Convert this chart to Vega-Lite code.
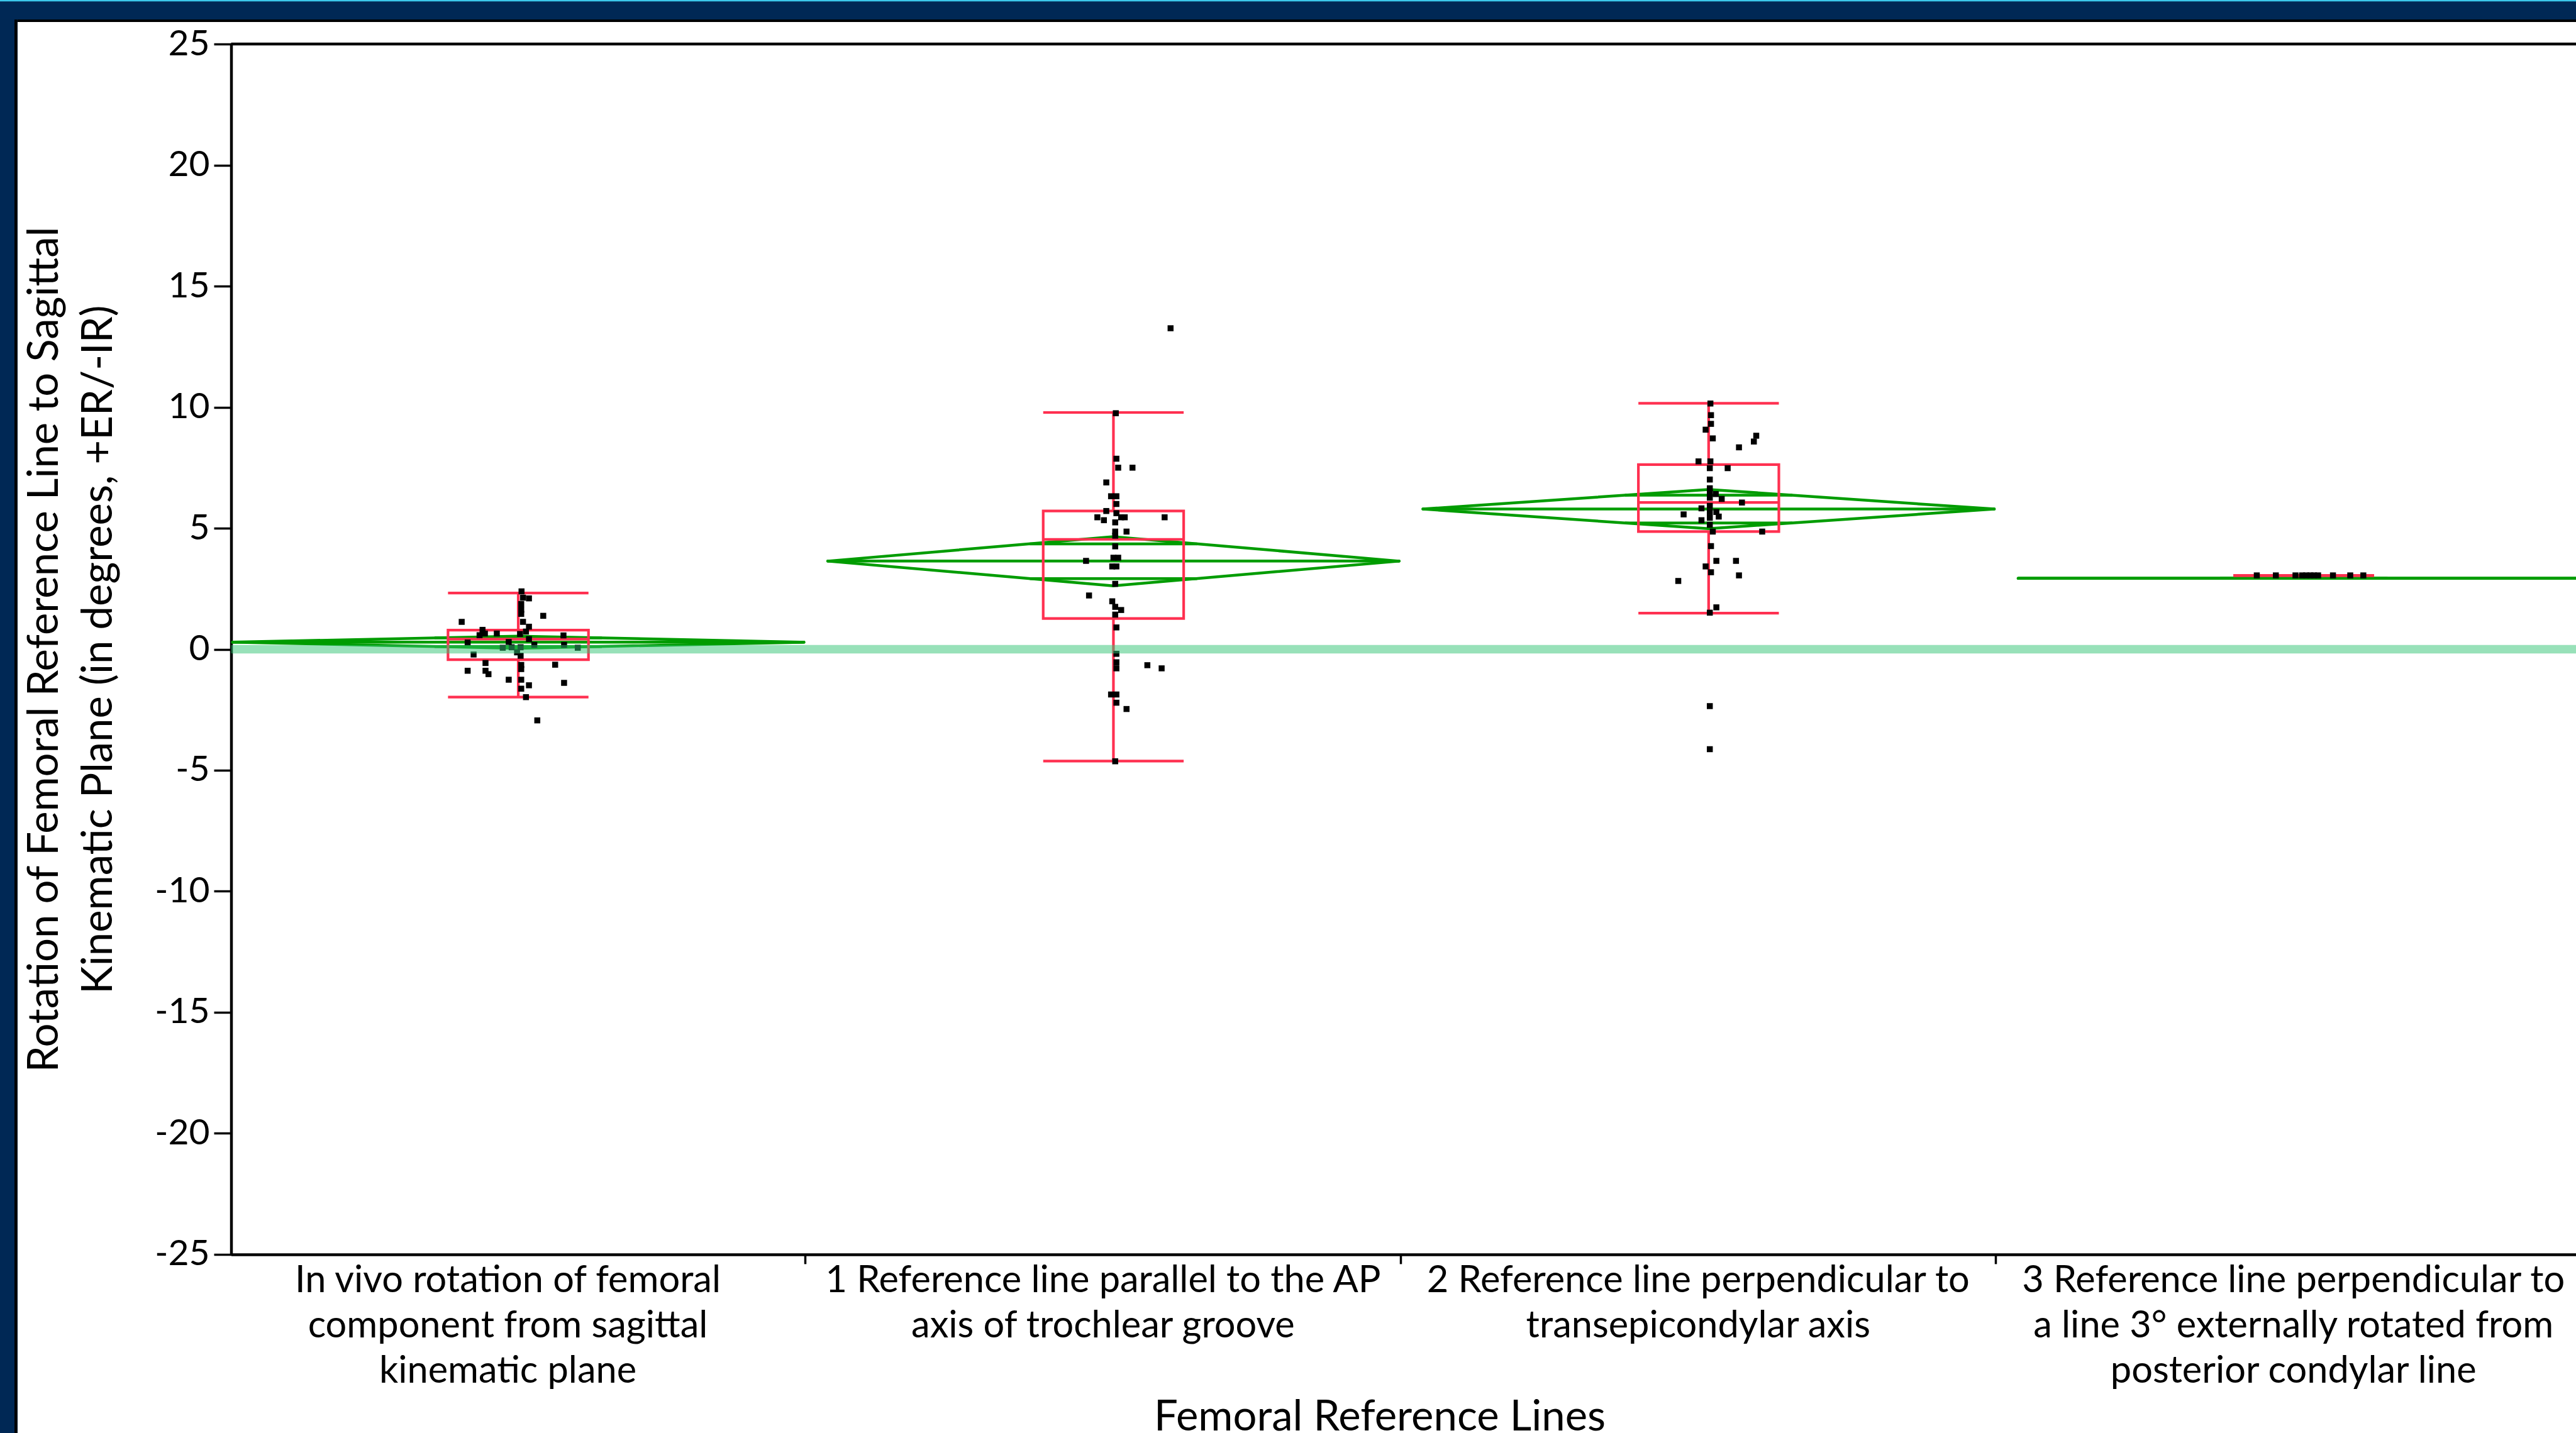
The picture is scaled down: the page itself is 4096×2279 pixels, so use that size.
{
  "$schema": "https://vega.github.io/schema/vega-lite/v6.json",
  "background": "#002855",
  "padding": 0,
  "spacing": 0,
  "config": {
    "view": {"stroke": null},
    "concat": {"spacing": 0},
    "font": "Lato"
  },
  "datasets": {
    "groups": [
      {"g": 1, "group": "In vivo rotation of femoral component from sagittal kinematic plane", "mean": 0.29, "ciLow": 0.04, "ciHigh": 0.54, "whiskerLow": -1.98, "q1": -0.43, "median": 0.42, "q3": 0.79, "whiskerHigh": 2.32},
      {"g": 2, "group": "1 Reference line parallel to the AP axis of trochlear groove", "mean": 3.64, "ciLow": 2.62, "ciHigh": 4.65, "whiskerLow": -4.62, "q1": 1.27, "median": 4.54, "q3": 5.71, "whiskerHigh": 9.78},
      {"g": 3, "group": "2 Reference line perpendicular to transepicondylar axis", "mean": 5.79, "ciLow": 4.98, "ciHigh": 6.6, "whiskerLow": 1.49, "q1": 4.86, "median": 6.06, "q3": 7.63, "whiskerHigh": 10.16},
      {"g": 4, "group": "3 Reference line perpendicular to a line 3° externally rotated from posterior condylar line", "mean": 2.93, "ciLow": 2.93, "ciHigh": 2.93, "whiskerLow": 3.05, "q1": 3.05, "median": 3.05, "q3": 3.05, "whiskerHigh": 3.05}
    ],
    "points": [
      {"g": 1, "rotation": 2.39, "jitter": 0.0055}, {"g": 1, "rotation": 2.13, "jitter": 0.008}, {"g": 1, "rotation": 2.1, "jitter": 0.018},
      {"g": 1, "rotation": 1.87, "jitter": 0.005}, {"g": 1, "rotation": 1.63, "jitter": 0.005}, {"g": 1, "rotation": 1.46, "jitter": 0.005},
      {"g": 1, "rotation": 1.38, "jitter": 0.042}, {"g": 1, "rotation": 1.13, "jitter": -0.095}, {"g": 1, "rotation": 1.13, "jitter": 0.008},
      {"g": 1, "rotation": 0.93, "jitter": 0.018}, {"g": 1, "rotation": 0.73, "jitter": 0.013}, {"g": 1, "rotation": 0.8, "jitter": -0.06},
      {"g": 1, "rotation": 0.58, "jitter": -0.065}, {"g": 1, "rotation": 0.65, "jitter": -0.056}, {"g": 1, "rotation": 0.65, "jitter": -0.036},
      {"g": 1, "rotation": 0.63, "jitter": 0.003}, {"g": 1, "rotation": 0.57, "jitter": 0.076}, {"g": 1, "rotation": 0.42, "jitter": 0.018},
      {"g": 1, "rotation": 0.3, "jitter": -0.016}, {"g": 1, "rotation": 0.28, "jitter": -0.085}, {"g": 1, "rotation": 0.06, "jitter": -0.026},
      {"g": 1, "rotation": 0.08, "jitter": -0.011}, {"g": 1, "rotation": 0.08, "jitter": 0.004}, {"g": 1, "rotation": 0.18, "jitter": 0.027},
      {"g": 1, "rotation": 0.18, "jitter": 0.077}, {"g": 1, "rotation": 0.06, "jitter": 0.1}, {"g": 1, "rotation": -0.13, "jitter": -0.002},
      {"g": 1, "rotation": -0.22, "jitter": -0.075}, {"g": 1, "rotation": -0.27, "jitter": 0.004}, {"g": 1, "rotation": -0.57, "jitter": -0.055},
      {"g": 1, "rotation": -0.64, "jitter": 0.062}, {"g": 1, "rotation": -0.65, "jitter": 0.005}, {"g": 1, "rotation": -0.82, "jitter": 0.005},
      {"g": 1, "rotation": -0.89, "jitter": -0.085}, {"g": 1, "rotation": -0.89, "jitter": -0.055}, {"g": 1, "rotation": -1.03, "jitter": -0.05},
      {"g": 1, "rotation": -1.26, "jitter": -0.016}, {"g": 1, "rotation": -1.26, "jitter": 0.005}, {"g": 1, "rotation": -1.39, "jitter": 0.077},
      {"g": 1, "rotation": -1.49, "jitter": 0.018}, {"g": 1, "rotation": -1.63, "jitter": 0.005}, {"g": 1, "rotation": -1.98, "jitter": 0.013},
      {"g": 1, "rotation": -2.94, "jitter": 0.032},

      {"g": 2, "rotation": 13.26, "jitter": 0.096}, {"g": 2, "rotation": 9.75, "jitter": 0.004}, {"g": 2, "rotation": 7.87, "jitter": 0.005},
      {"g": 2, "rotation": 7.5, "jitter": 0.008}, {"g": 2, "rotation": 7.5, "jitter": 0.032}, {"g": 2, "rotation": 6.89, "jitter": -0.012},
      {"g": 2, "rotation": 6.32, "jitter": -0.004}, {"g": 2, "rotation": 6.32, "jitter": 0.005}, {"g": 2, "rotation": 6.0, "jitter": 0.005},
      {"g": 2, "rotation": 5.71, "jitter": -0.012}, {"g": 2, "rotation": 5.62, "jitter": 0.005}, {"g": 2, "rotation": 5.45, "jitter": -0.027},
      {"g": 2, "rotation": 5.33, "jitter": -0.016}, {"g": 2, "rotation": 5.45, "jitter": 0.013}, {"g": 2, "rotation": 5.45, "jitter": 0.019},
      {"g": 2, "rotation": 5.45, "jitter": 0.086}, {"g": 2, "rotation": 5.24, "jitter": 0.003}, {"g": 2, "rotation": 4.86, "jitter": 0.003},
      {"g": 2, "rotation": 4.86, "jitter": 0.022}, {"g": 2, "rotation": 4.69, "jitter": 0.003}, {"g": 2, "rotation": 4.25, "jitter": 0.003},
      {"g": 2, "rotation": 3.78, "jitter": 0.008}, {"g": 2, "rotation": 3.78, "jitter": 0.0}, {"g": 2, "rotation": 3.65, "jitter": -0.046},
      {"g": 2, "rotation": 3.42, "jitter": -0.002}, {"g": 2, "rotation": 3.42, "jitter": 0.005}, {"g": 2, "rotation": 2.7, "jitter": 0.003},
      {"g": 2, "rotation": 2.22, "jitter": -0.041}, {"g": 2, "rotation": 1.98, "jitter": -0.002}, {"g": 2, "rotation": 1.75, "jitter": 0.003},
      {"g": 2, "rotation": 1.62, "jitter": 0.013}, {"g": 2, "rotation": 1.43, "jitter": 0.003}, {"g": 2, "rotation": 0.9, "jitter": 0.005},
      {"g": 2, "rotation": -0.19, "jitter": 0.005}, {"g": 2, "rotation": -0.54, "jitter": 0.005}, {"g": 2, "rotation": -0.79, "jitter": 0.005},
      {"g": 2, "rotation": -0.66, "jitter": 0.057}, {"g": 2, "rotation": -0.79, "jitter": 0.081}, {"g": 2, "rotation": -1.87, "jitter": -0.004},
      {"g": 2, "rotation": -1.87, "jitter": 0.005}, {"g": 2, "rotation": -2.21, "jitter": 0.005}, {"g": 2, "rotation": -2.47, "jitter": 0.022},
      {"g": 2, "rotation": -4.63, "jitter": 0.003},

      {"g": 3, "rotation": 10.15, "jitter": 0.003}, {"g": 3, "rotation": 9.67, "jitter": 0.004}, {"g": 3, "rotation": 9.31, "jitter": 0.004},
      {"g": 3, "rotation": 9.07, "jitter": -0.005}, {"g": 3, "rotation": 8.71, "jitter": 0.007}, {"g": 3, "rotation": 8.82, "jitter": 0.08},
      {"g": 3, "rotation": 8.58, "jitter": 0.076}, {"g": 3, "rotation": 8.34, "jitter": 0.051}, {"g": 3, "rotation": 7.76, "jitter": -0.017},
      {"g": 3, "rotation": 7.76, "jitter": 0.003}, {"g": 3, "rotation": 7.48, "jitter": 0.002}, {"g": 3, "rotation": 7.48, "jitter": 0.032},
      {"g": 3, "rotation": 7.01, "jitter": 0.002}, {"g": 3, "rotation": 6.65, "jitter": 0.002}, {"g": 3, "rotation": 6.46, "jitter": 0.002},
      {"g": 3, "rotation": 6.41, "jitter": 0.012}, {"g": 3, "rotation": 6.26, "jitter": 0.002}, {"g": 3, "rotation": 6.21, "jitter": 0.022},
      {"g": 3, "rotation": 6.06, "jitter": 0.056}, {"g": 3, "rotation": 5.92, "jitter": 0.002}, {"g": 3, "rotation": 5.82, "jitter": -0.012},
      {"g": 3, "rotation": 5.67, "jitter": 0.002}, {"g": 3, "rotation": 5.67, "jitter": 0.013}, {"g": 3, "rotation": 5.57, "jitter": -0.042},
      {"g": 3, "rotation": 5.48, "jitter": 0.017}, {"g": 3, "rotation": 5.43, "jitter": 0.002}, {"g": 3, "rotation": 5.33, "jitter": -0.012},
      {"g": 3, "rotation": 5.14, "jitter": 0.002}, {"g": 3, "rotation": 4.86, "jitter": 0.007}, {"g": 3, "rotation": 4.86, "jitter": 0.09},
      {"g": 3, "rotation": 4.26, "jitter": 0.004}, {"g": 3, "rotation": 3.65, "jitter": 0.013}, {"g": 3, "rotation": 3.65, "jitter": 0.046},
      {"g": 3, "rotation": 3.42, "jitter": -0.005}, {"g": 3, "rotation": 3.18, "jitter": 0.004}, {"g": 3, "rotation": 3.05, "jitter": 0.051},
      {"g": 3, "rotation": 2.82, "jitter": -0.051}, {"g": 3, "rotation": 1.73, "jitter": 0.013}, {"g": 3, "rotation": 1.51, "jitter": 0.002},
      {"g": 3, "rotation": -2.35, "jitter": 0.002}, {"g": 3, "rotation": -4.13, "jitter": 0.002},

      {"g": 4, "rotation": 3.05, "jitter": -0.079}, {"g": 4, "rotation": 3.05, "jitter": -0.047}, {"g": 4, "rotation": 3.05, "jitter": -0.014},
      {"g": 4, "rotation": 3.05, "jitter": -0.003}, {"g": 4, "rotation": 3.05, "jitter": 0.004}, {"g": 4, "rotation": 3.05, "jitter": 0.011},
      {"g": 4, "rotation": 3.05, "jitter": 0.017}, {"g": 4, "rotation": 3.05, "jitter": 0.024}, {"g": 4, "rotation": 3.05, "jitter": 0.049},
      {"g": 4, "rotation": 3.05, "jitter": 0.078}, {"g": 4, "rotation": 3.05, "jitter": 0.1}
    ]
  },
  "vconcat": [
    {"width": 4096, "height": 2.2, "view": {"fill": "#3CC8EB", "stroke": null}, "data": {"values": []}, "mark": "point"},
    {"width": 4096, "height": 27.3, "view": {"fill": "#002855", "stroke": null}, "data": {"values": []}, "mark": "point"},
    {
      "spacing": 0,
      "hconcat": [
        {"width": 22.9, "height": 2249.5, "view": {"fill": "#002855", "stroke": null}, "data": {"values": []}, "mark": "point"},
        {"width": 4.6, "height": 2249.5, "view": {"fill": "black", "stroke": null}, "data": {"values": []}, "mark": "point"},
        {
          "spacing": 0,
          "vconcat": [
            {"width": 4068.5, "height": 4, "view": {"fill": "black", "stroke": null}, "data": {"values": []}, "mark": "point"},
            {
              "width": 4068.5,
              "height": 2245.5,
              "view": {"fill": "white", "stroke": null},
              "resolve": {"axis": {"x": "independent", "y": "independent"}},
              "layer": [
                {
                  "data": {"name": "groups"},
                  "transform": [
                    {"calculate": "datum.g - 0.48", "as": "tipL"},
                    {"calculate": "datum.g + 0.48", "as": "tipR"},
                    {"calculate": "datum.g - 0.48 * (1 - SQRT1_2)", "as": "ovL"},
                    {"calculate": "datum.g + 0.48 * (1 - SQRT1_2)", "as": "ovR"},
                    {"calculate": "datum.mean + (datum.ciHigh - datum.mean) * SQRT1_2", "as": "ovHigh"},
                    {"calculate": "datum.mean - (datum.mean - datum.ciLow) * SQRT1_2", "as": "ovLow"}
                  ],
                  "layer": [
                    {"mark": {"type": "rule", "color": "#009C00", "strokeWidth": 4.5, "strokeCap": "round"},
                     "encoding": {"x": {"field": "tipL", "type": "quantitative", "scale": {"domain": [0.5176, 4.5], "range": [339.5, 4108.4], "nice": false, "zero": false}, "axis": null},
                                  "x2": {"field": "g"},
                                  "y": {"field": "mean", "type": "quantitative", "scale": {"domain": [-25, 25], "range": [1959.9, 35.1], "nice": false, "zero": false}, "axis": null},
                                  "y2": {"field": "ciHigh"}}},
                    {"mark": {"type": "rule", "color": "#009C00", "strokeWidth": 4.5, "strokeCap": "round"},
                     "encoding": {"x": {"field": "g", "type": "quantitative", "axis": null}, "x2": {"field": "tipR"},
                                  "y": {"field": "ciHigh", "type": "quantitative", "axis": null}, "y2": {"field": "mean"}}},
                    {"mark": {"type": "rule", "color": "#009C00", "strokeWidth": 4.5, "strokeCap": "round"},
                     "encoding": {"x": {"field": "tipL", "type": "quantitative", "axis": null}, "x2": {"field": "g"},
                                  "y": {"field": "mean", "type": "quantitative", "axis": null}, "y2": {"field": "ciLow"}}},
                    {"mark": {"type": "rule", "color": "#009C00", "strokeWidth": 4.5, "strokeCap": "round"},
                     "encoding": {"x": {"field": "g", "type": "quantitative", "axis": null}, "x2": {"field": "tipR"},
                                  "y": {"field": "ciLow", "type": "quantitative", "axis": null}, "y2": {"field": "mean"}}},
                    {"mark": {"type": "rule", "color": "#009C00", "strokeWidth": 4.5},
                     "encoding": {"x": {"field": "tipL", "type": "quantitative", "axis": null}, "x2": {"field": "tipR"},
                                  "y": {"field": "mean", "type": "quantitative", "axis": null}}},
                    {"mark": {"type": "rule", "color": "#009C00", "strokeWidth": 4.5},
                     "encoding": {"x": {"field": "ovL", "type": "quantitative", "axis": null}, "x2": {"field": "ovR"},
                                  "y": {"field": "ovHigh", "type": "quantitative", "axis": null}}},
                    {"mark": {"type": "rule", "color": "#009C00", "strokeWidth": 4.5},
                     "encoding": {"x": {"field": "ovL", "type": "quantitative", "axis": null}, "x2": {"field": "ovR"},
                                  "y": {"field": "ovLow", "type": "quantitative", "axis": null}}}
                  ]
                },
                {
                  "data": {"name": "groups"},
                  "transform": [
                    {"calculate": "datum.g - 0.118", "as": "boxL"},
                    {"calculate": "datum.g + 0.118", "as": "boxR"}
                  ],
                  "layer": [
                    {"mark": {"type": "rect", "filled": false, "stroke": "#FF3050", "strokeWidth": 4.2},
                     "encoding": {"x": {"field": "boxL", "type": "quantitative", "axis": null}, "x2": {"field": "boxR"},
                                  "y": {"field": "q1", "type": "quantitative", "axis": null}, "y2": {"field": "q3"}}},
                    {"mark": {"type": "rule", "color": "#FF3050", "strokeWidth": 4.2},
                     "encoding": {"x": {"field": "boxL", "type": "quantitative", "axis": null}, "x2": {"field": "boxR"},
                                  "y": {"field": "median", "type": "quantitative", "axis": null}}},
                    {"mark": {"type": "rule", "color": "#FF3050", "strokeWidth": 4.2},
                     "encoding": {"x": {"field": "boxL", "type": "quantitative", "axis": null}, "x2": {"field": "boxR"},
                                  "y": {"field": "whiskerHigh", "type": "quantitative", "axis": null}}},
                    {"mark": {"type": "rule", "color": "#FF3050", "strokeWidth": 4.2},
                     "encoding": {"x": {"field": "boxL", "type": "quantitative", "axis": null}, "x2": {"field": "boxR"},
                                  "y": {"field": "whiskerLow", "type": "quantitative", "axis": null}}},
                    {"mark": {"type": "rule", "color": "#FF3050", "strokeWidth": 4.2},
                     "encoding": {"x": {"field": "g", "type": "quantitative", "axis": null},
                                  "y": {"field": "q3", "type": "quantitative", "axis": null}, "y2": {"field": "whiskerHigh"}}},
                    {"mark": {"type": "rule", "color": "#FF3050", "strokeWidth": 4.2},
                     "encoding": {"x": {"field": "g", "type": "quantitative", "axis": null},
                                  "y": {"field": "whiskerLow", "type": "quantitative", "axis": null}, "y2": {"field": "q1"}}}
                  ]
                },
                {
                  "data": {"name": "points"},
                  "transform": [{"calculate": "datum.g + datum.jitter", "as": "xpos"}],
                  "mark": {"type": "point", "shape": "square", "filled": true, "color": "black", "opacity": 1, "size": 90},
                  "encoding": {
                    "x": {
                      "field": "xpos", "type": "quantitative",
                      "axis": {
                        "orient": "bottom", "offset": -285.6,
                        "values": [1, 1.5, 2, 2.5, 3, 3.5, 4],
                        "grid": false,
                        "domain": true, "domainColor": "black", "domainWidth": 4.5,
                        "ticks": true, "tickColor": "black", "tickWidth": 3.5, "tickSize": 15,
                        "tickOpacity": {"condition": {"test": "datum.value % 1 === 0", "value": 0}, "value": 1},
                        "tickOffset": -17,
                        "labelExpr": "datum.value === 1 ? ['In vivo rotation of femoral', 'component from sagittal', 'kinematic plane'] : datum.value === 2 ? ['1 Reference line parallel to the AP', 'axis of trochlear groove'] : datum.value === 3 ? ['2 Reference line perpendicular to', 'transepicondylar axis'] : datum.value === 4 ? ['3 Reference line perpendicular to', 'a line 3° externally rotated from', 'posterior condylar line'] : ''",
                        "labelFont": "Lato", "labelFontSize": 59.5, "labelColor": "black", "labelLineHeight": 72,
                        "labelBaseline": "alphabetic", "labelAlign": "center", "labelPadding": 44.6,
                        "labelOverlap": false, "labelFlush": false, "labelBound": false, "labelLimit": 3000,
                        "title": "Femoral Reference Lines",
                        "titleFont": "Lato", "titleFontSize": 67, "titleFontWeight": "normal", "titleColor": "black",
                        "titleX": 2165.5, "titleY": 279.5, "titleBaseline": "alphabetic", "titleAlign": "center", "titleLimit": 3000
                      }
                    },
                    "y": {
                      "field": "rotation", "type": "quantitative",
                      "axis": {
                        "orient": "left", "offset": -339.5,
                        "values": [-25, -20, -15, -10, -5, 0, 5, 10, 15, 20, 25],
                        "grid": false,
                        "domain": true, "domainColor": "black", "domainWidth": 4.5,
                        "ticks": true, "tickColor": "black", "tickWidth": 3.5, "tickSize": 27.5,
                        "labelExpr": "'' + datum.value",
                        "labelFont": "Lato", "labelFontSize": 57, "labelColor": "black", "labelPadding": 7,
                        "labelAlign": "right", "labelBaseline": "middle",
                        "labelOverlap": false, "labelFlush": false, "labelBound": false,
                        "title": ["Rotation of Femoral Reference Line to Sagittal", "Kinematic Plane (in degrees, +ER/-IR)"],
                        "titleFont": "Lato", "titleFontSize": 67, "titleFontWeight": "normal", "titleColor": "black",
                        "titleLineHeight": 86, "titleAngle": 270, "titleX": -276, "titleY": 997.5,
                        "titleBaseline": "alphabetic", "titleAlign": "center", "titleLimit": 3000
                      }
                    }
                  }
                },
                {
                  "data": {"values": [{}]},
                  "mark": {"type": "rule", "color": "black", "strokeWidth": 4.5, "strokeCap": "butt"},
                  "encoding": {
                    "x": {"datum": 0.5176, "type": "quantitative", "axis": null},
                    "x2": {"datum": 4.5},
                    "y": {"datum": 25, "type": "quantitative", "axis": null}
                  }
                },
                {
                  "data": {"values": [{}]},
                  "mark": {"type": "rule", "color": "#32C373", "opacity": 0.5, "strokeWidth": 13.6, "strokeCap": "butt"},
                  "encoding": {
                    "x": {"datum": 0.5176, "type": "quantitative", "axis": null},
                    "x2": {"datum": 4.5},
                    "y": {"datum": 0, "type": "quantitative", "axis": null}
                  }
                }
              ]
            }
          ]
        }
      ]
    }
  ]
}
